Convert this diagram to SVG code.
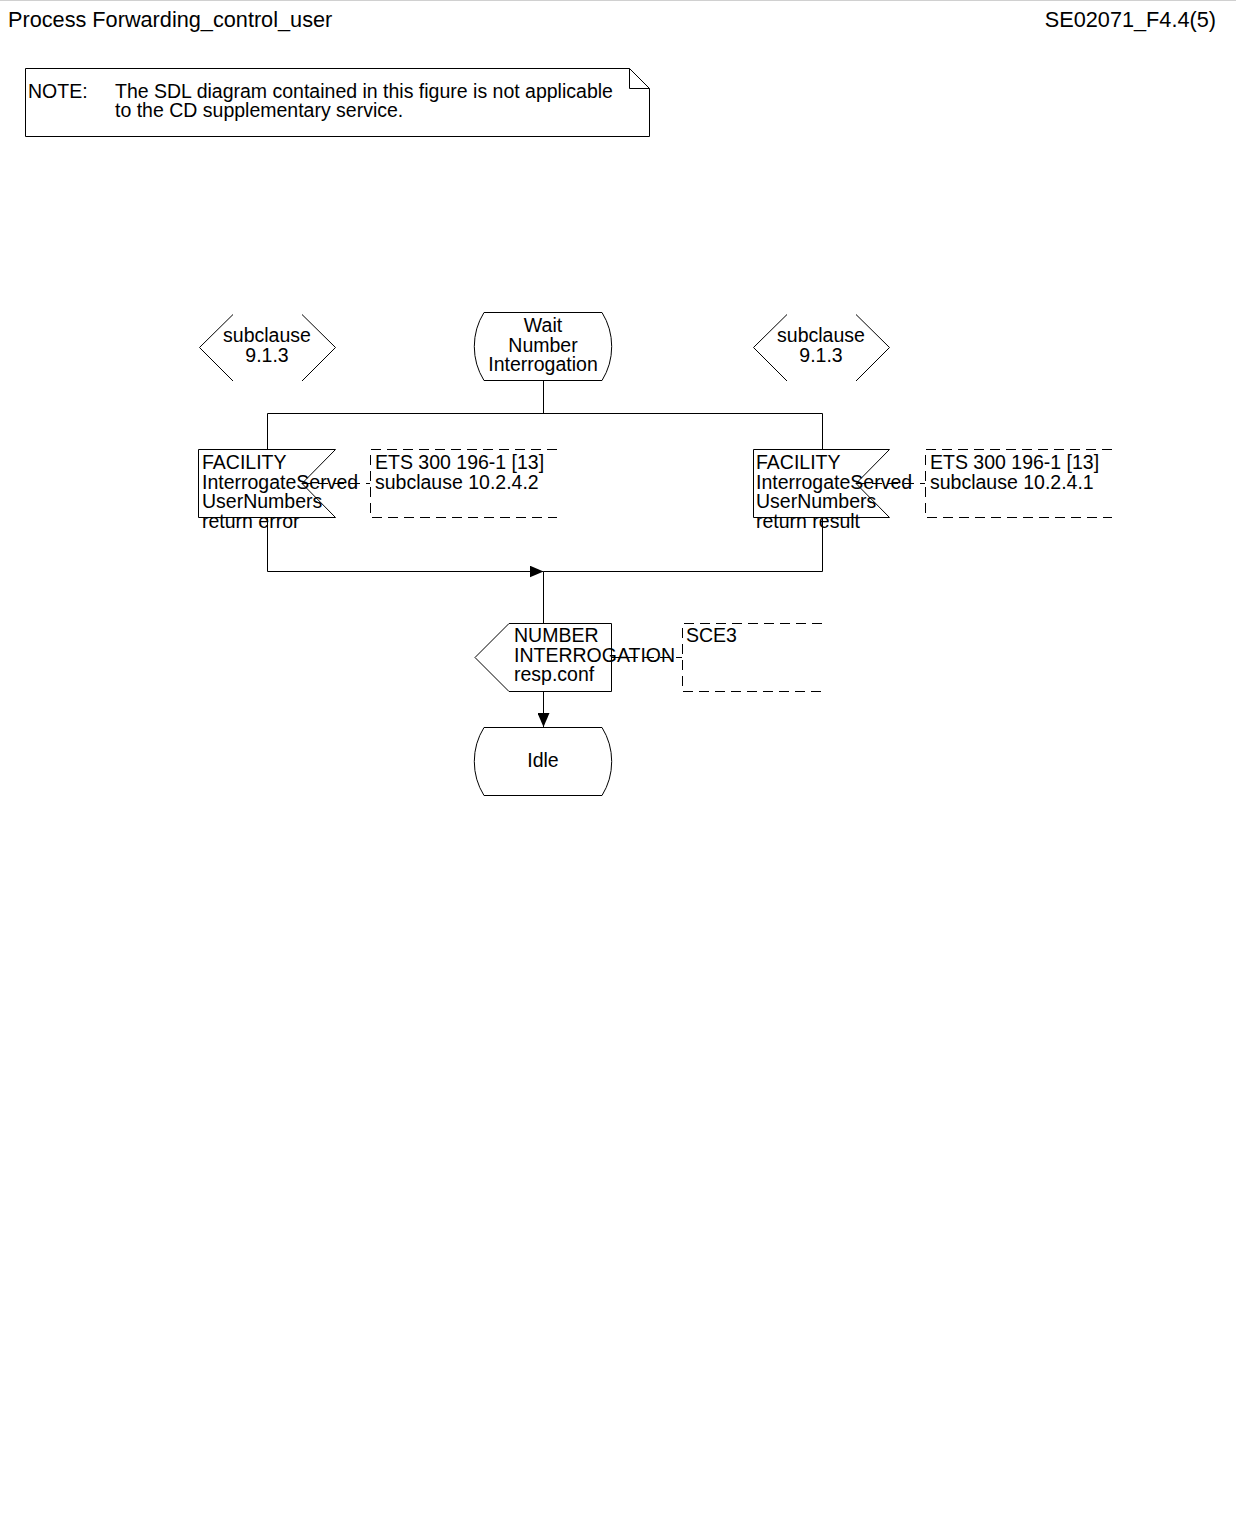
<svg xmlns="http://www.w3.org/2000/svg" width="1236" height="1521" viewBox="0 0 1236 1521">
<style>
.s{fill:none;stroke:#000;stroke-width:1}
.w{fill:#fff;stroke:#000;stroke-width:1}
.d{fill:none;stroke:#000;stroke-width:1;stroke-dasharray:10 6}
.t{font-family:"Liberation Sans",Arial,Helvetica,sans-serif;font-size:19.5px;fill:#000}
.h{font-family:"Liberation Sans",Arial,Helvetica,sans-serif;font-size:21.7px;fill:#000}
.c{text-anchor:middle}
</style>
<defs>
<marker id="ar" markerWidth="14" markerHeight="12" refX="14" refY="6" orient="auto" markerUnits="userSpaceOnUse">
<path d="M0,0 L14,6 L0,12 Z" fill="#000"/>
</marker>
</defs>
<rect x="0" y="0" width="1236" height="1521" fill="#fff"/>
<line x1="0" y1="0.5" x2="1236" y2="0.5" stroke="#d0d0d0" stroke-width="1"/>
<text class="h" x="8" y="27">Process Forwarding_control_user</text>
<text class="h" x="1216" y="27" text-anchor="end">SE02071_F4.4(5)</text>

<g id="note">
<path class="s" d="M25.5,68.5 H629.5 L649.5,88.5 V136.5 H25.5 Z M629.5,68.5 V88.5 H649.5"/>
<text class="t" x="28" y="98">NOTE:</text>
<text class="t" x="115" y="98">The SDL diagram contained in this figure is not applicable</text>
<text class="t" x="115" y="117">to the CD supplementary service.</text>
</g>

<g id="connectors">
<path class="s" d="M543.5,381 V413.5"/>
<path class="s" d="M267.5,449 V413.5 H822.5 V449"/>
<path class="s" d="M267.5,517 V571.5 H543.5" marker-end="url(#ar)"/>
<path class="s" d="M822.5,517 V571.5 H543.5"/>
<path class="s" d="M543.5,571.5 V623"/>
<path class="s" d="M543.5,691 V727" marker-end="url(#ar)"/>
<path class="d" d="M302,483.5 H370"/>
<path class="d" d="M856,483.5 H925"/>
<path class="d" d="M612,657.5 H682"/>
</g>

<g id="conn_left">
<path class="s" d="M233,314.5 L199.5,347.5 L233,381"/>
<path class="s" d="M302,314.5 L335.5,347.5 L302,381"/>
<text class="t c" x="267" y="342">subclause</text>
<text class="t c" x="267" y="362">9.1.3</text>
</g>

<g id="conn_right">
<path class="s" d="M787,314.5 L753.5,347.5 L787,381"/>
<path class="s" d="M856,314.5 L889.5,347.5 L856,381"/>
<text class="t c" x="821" y="342">subclause</text>
<text class="t c" x="821" y="362">9.1.3</text>
</g>

<g id="state_wait">
<path class="w" d="M484,312.5 H602 A64.5,64.5 0 0 1 602,380.5 H484 A64.5,64.5 0 0 1 484,312.5 Z"/>
<text class="t c" x="543" y="332">Wait</text>
<text class="t c" x="543" y="351.5">Number</text>
<text class="t c" x="543" y="371">Interrogation</text>
</g>

<g id="input_error">
<path class="s" d="M198.5,449.5 H335.5 L302,483.5 L335.5,517.5 H198.5 Z"/>
<text class="t" x="202" y="469">FACILITY</text>
<text class="t" x="202" y="488.5">InterrogateServed</text>
<text class="t" x="202" y="508">UserNumbers</text>
<text class="t" x="202" y="527.5">return error</text>
</g>

<g id="comment_error">
<path class="d" d="M557,449.5 H370.5 V517.5 H557"/>
<text class="t" x="375" y="469">ETS 300 196-1 [13]</text>
<text class="t" x="375" y="488.5">subclause 10.2.4.2</text>
</g>

<g id="input_result">
<path class="s" d="M753.5,449.5 H889.5 L856,483.5 L889.5,517.5 H753.5 Z"/>
<text class="t" x="756" y="469">FACILITY</text>
<text class="t" x="756" y="488.5">InterrogateServed</text>
<text class="t" x="756" y="508">UserNumbers</text>
<text class="t" x="756" y="527.5">return result</text>
</g>

<g id="comment_result">
<path class="d" d="M1112,449.5 H925.5 V517.5 H1112"/>
<text class="t" x="930" y="469">ETS 300 196-1 [13]</text>
<text class="t" x="930" y="488.5">subclause 10.2.4.1</text>
</g>

<g id="output_resp">
<path class="w" d="M509,623.5 H611.5 V691.5 H509 L475,657.5 Z"/>
<text class="t" x="514" y="642">NUMBER</text>
<text class="t" x="514" y="661.5">INTERROGATION</text>
<text class="t" x="514" y="681">resp.conf</text>
</g>

<g id="comment_sce3">
<path class="d" d="M822,623.5 H682.5 V691.5 H822"/>
<text class="t" x="686" y="642">SCE3</text>
</g>

<g id="state_idle">
<path class="w" d="M484,727.5 H602 A64.5,64.5 0 0 1 602,795.5 H484 A64.5,64.5 0 0 1 484,727.5 Z"/>
<text class="t c" x="543" y="767">Idle</text>
</g>
</svg>
